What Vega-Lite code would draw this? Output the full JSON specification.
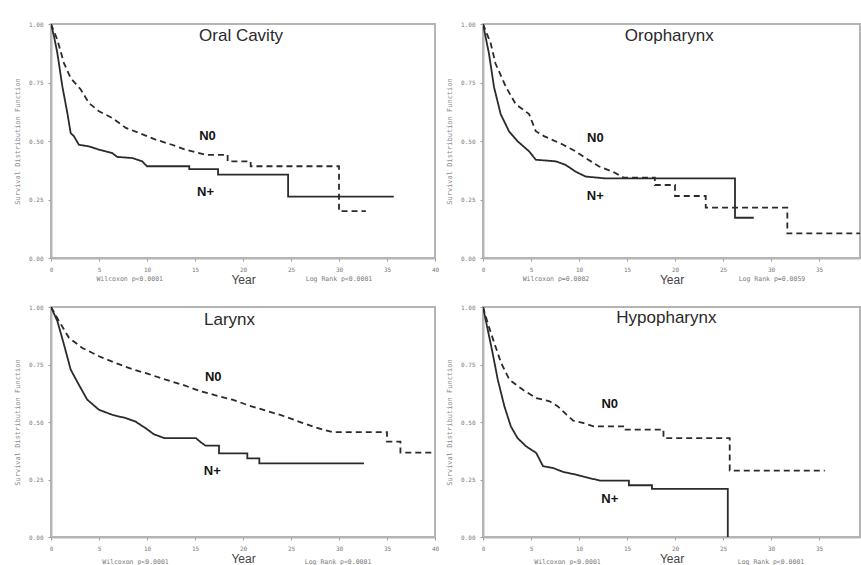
{
  "$schema": "https://vega.github.io/schema/vega-lite/v6.json",
  "padding": {"left": 12, "top": 20, "right": 0, "bottom": 0},
  "bounds": "flush",
  "columns": 2,
  "spacing": {"row": 49, "column": 48},
  "datasets": {
    "curves": [
      {"p": "Oral Cavity", "g": "N+", "i": 0, "t": 0, "s": 1},
      {"p": "Oral Cavity", "g": "N+", "i": 1, "t": 0.3, "s": 0.95},
      {"p": "Oral Cavity", "g": "N+", "i": 2, "t": 0.66, "s": 0.876},
      {"p": "Oral Cavity", "g": "N+", "i": 3, "t": 1.18, "s": 0.734},
      {"p": "Oral Cavity", "g": "N+", "i": 4, "t": 1.7, "s": 0.62},
      {"p": "Oral Cavity", "g": "N+", "i": 5, "t": 2.05, "s": 0.534},
      {"p": "Oral Cavity", "g": "N+", "i": 6, "t": 2.4, "s": 0.52},
      {"p": "Oral Cavity", "g": "N+", "i": 7, "t": 2.9, "s": 0.484},
      {"p": "Oral Cavity", "g": "N+", "i": 8, "t": 3.96, "s": 0.477},
      {"p": "Oral Cavity", "g": "N+", "i": 9, "t": 5.0, "s": 0.463},
      {"p": "Oral Cavity", "g": "N+", "i": 10, "t": 6.35, "s": 0.449},
      {"p": "Oral Cavity", "g": "N+", "i": 11, "t": 6.9, "s": 0.432},
      {"p": "Oral Cavity", "g": "N+", "i": 12, "t": 8.5, "s": 0.427},
      {"p": "Oral Cavity", "g": "N+", "i": 13, "t": 9.5, "s": 0.413},
      {"p": "Oral Cavity", "g": "N+", "i": 14, "t": 10.0, "s": 0.392},
      {"p": "Oral Cavity", "g": "N+", "i": 15, "t": 14.4, "s": 0.392},
      {"p": "Oral Cavity", "g": "N+", "i": 16, "t": 14.4, "s": 0.38},
      {"p": "Oral Cavity", "g": "N+", "i": 17, "t": 17.4, "s": 0.38},
      {"p": "Oral Cavity", "g": "N+", "i": 18, "t": 17.4, "s": 0.356},
      {"p": "Oral Cavity", "g": "N+", "i": 19, "t": 24.7, "s": 0.356},
      {"p": "Oral Cavity", "g": "N+", "i": 20, "t": 24.7, "s": 0.262},
      {"p": "Oral Cavity", "g": "N+", "i": 21, "t": 35.7, "s": 0.262},

      {"p": "Oral Cavity", "g": "N0", "i": 0, "t": 0, "s": 1},
      {"p": "Oral Cavity", "g": "N0", "i": 1, "t": 0.66, "s": 0.933},
      {"p": "Oral Cavity", "g": "N0", "i": 2, "t": 1.35, "s": 0.833},
      {"p": "Oral Cavity", "g": "N0", "i": 3, "t": 2.05, "s": 0.769},
      {"p": "Oral Cavity", "g": "N0", "i": 4, "t": 3.1, "s": 0.72},
      {"p": "Oral Cavity", "g": "N0", "i": 5, "t": 3.96, "s": 0.662},
      {"p": "Oral Cavity", "g": "N0", "i": 6, "t": 5.0, "s": 0.627},
      {"p": "Oral Cavity", "g": "N0", "i": 7, "t": 6.4, "s": 0.598},
      {"p": "Oral Cavity", "g": "N0", "i": 8, "t": 7.8, "s": 0.556},
      {"p": "Oral Cavity", "g": "N0", "i": 9, "t": 9.2, "s": 0.534},
      {"p": "Oral Cavity", "g": "N0", "i": 10, "t": 10.9, "s": 0.506},
      {"p": "Oral Cavity", "g": "N0", "i": 11, "t": 12.6, "s": 0.484},
      {"p": "Oral Cavity", "g": "N0", "i": 12, "t": 14.0, "s": 0.463},
      {"p": "Oral Cavity", "g": "N0", "i": 13, "t": 16.1, "s": 0.441},
      {"p": "Oral Cavity", "g": "N0", "i": 14, "t": 18.4, "s": 0.441},
      {"p": "Oral Cavity", "g": "N0", "i": 15, "t": 18.4, "s": 0.413},
      {"p": "Oral Cavity", "g": "N0", "i": 16, "t": 20.8, "s": 0.413},
      {"p": "Oral Cavity", "g": "N0", "i": 17, "t": 20.8, "s": 0.392},
      {"p": "Oral Cavity", "g": "N0", "i": 18, "t": 30.0, "s": 0.392},
      {"p": "Oral Cavity", "g": "N0", "i": 19, "t": 30.0, "s": 0.2},
      {"p": "Oral Cavity", "g": "N0", "i": 20, "t": 32.8, "s": 0.2},

      {"p": "Oropharynx", "g": "N+", "i": 0, "t": 0, "s": 1},
      {"p": "Oropharynx", "g": "N+", "i": 1, "t": 0.62, "s": 0.874},
      {"p": "Oropharynx", "g": "N+", "i": 2, "t": 1.15, "s": 0.73},
      {"p": "Oropharynx", "g": "N+", "i": 3, "t": 1.84, "s": 0.615},
      {"p": "Oropharynx", "g": "N+", "i": 4, "t": 2.7, "s": 0.542},
      {"p": "Oropharynx", "g": "N+", "i": 5, "t": 3.6, "s": 0.499},
      {"p": "Oropharynx", "g": "N+", "i": 6, "t": 4.8, "s": 0.456},
      {"p": "Oropharynx", "g": "N+", "i": 7, "t": 5.5, "s": 0.42},
      {"p": "Oropharynx", "g": "N+", "i": 8, "t": 7.6, "s": 0.413},
      {"p": "Oropharynx", "g": "N+", "i": 9, "t": 8.6, "s": 0.398},
      {"p": "Oropharynx", "g": "N+", "i": 10, "t": 9.65, "s": 0.369},
      {"p": "Oropharynx", "g": "N+", "i": 11, "t": 10.7, "s": 0.348},
      {"p": "Oropharynx", "g": "N+", "i": 12, "t": 12.8, "s": 0.34},
      {"p": "Oropharynx", "g": "N+", "i": 13, "t": 26.25, "s": 0.34},
      {"p": "Oropharynx", "g": "N+", "i": 14, "t": 26.25, "s": 0.172},
      {"p": "Oropharynx", "g": "N+", "i": 15, "t": 28.2, "s": 0.172},

      {"p": "Oropharynx", "g": "N0", "i": 0, "t": 0, "s": 1},
      {"p": "Oropharynx", "g": "N0", "i": 1, "t": 0.8, "s": 0.918},
      {"p": "Oropharynx", "g": "N0", "i": 2, "t": 1.3, "s": 0.831},
      {"p": "Oropharynx", "g": "N0", "i": 3, "t": 2.4, "s": 0.73},
      {"p": "Oropharynx", "g": "N0", "i": 4, "t": 3.4, "s": 0.658},
      {"p": "Oropharynx", "g": "N0", "i": 5, "t": 4.8, "s": 0.615},
      {"p": "Oropharynx", "g": "N0", "i": 6, "t": 5.5, "s": 0.542},
      {"p": "Oropharynx", "g": "N0", "i": 7, "t": 6.35, "s": 0.521},
      {"p": "Oropharynx", "g": "N0", "i": 8, "t": 8.3, "s": 0.485},
      {"p": "Oropharynx", "g": "N0", "i": 9, "t": 9.65, "s": 0.456},
      {"p": "Oropharynx", "g": "N0", "i": 10, "t": 10.7, "s": 0.427},
      {"p": "Oropharynx", "g": "N0", "i": 11, "t": 12.1, "s": 0.391},
      {"p": "Oropharynx", "g": "N0", "i": 12, "t": 13.5, "s": 0.369},
      {"p": "Oropharynx", "g": "N0", "i": 13, "t": 14.7, "s": 0.343},
      {"p": "Oropharynx", "g": "N0", "i": 14, "t": 17.9, "s": 0.343},
      {"p": "Oropharynx", "g": "N0", "i": 15, "t": 17.9, "s": 0.312},
      {"p": "Oropharynx", "g": "N0", "i": 16, "t": 20.0, "s": 0.312},
      {"p": "Oropharynx", "g": "N0", "i": 17, "t": 20.0, "s": 0.265},
      {"p": "Oropharynx", "g": "N0", "i": 18, "t": 23.2, "s": 0.265},
      {"p": "Oropharynx", "g": "N0", "i": 19, "t": 23.2, "s": 0.215},
      {"p": "Oropharynx", "g": "N0", "i": 20, "t": 31.7, "s": 0.215},
      {"p": "Oropharynx", "g": "N0", "i": 21, "t": 31.7, "s": 0.105},
      {"p": "Oropharynx", "g": "N0", "i": 22, "t": 40, "s": 0.105},

      {"p": "Larynx", "g": "N+", "i": 0, "t": 0, "s": 1},
      {"p": "Larynx", "g": "N+", "i": 1, "t": 0.66, "s": 0.939},
      {"p": "Larynx", "g": "N+", "i": 2, "t": 1.35, "s": 0.837},
      {"p": "Larynx", "g": "N+", "i": 3, "t": 2.05, "s": 0.728},
      {"p": "Larynx", "g": "N+", "i": 4, "t": 2.9, "s": 0.662},
      {"p": "Larynx", "g": "N+", "i": 5, "t": 3.78, "s": 0.597},
      {"p": "Larynx", "g": "N+", "i": 6, "t": 5.0, "s": 0.553},
      {"p": "Larynx", "g": "N+", "i": 7, "t": 6.4, "s": 0.531},
      {"p": "Larynx", "g": "N+", "i": 8, "t": 7.78, "s": 0.517},
      {"p": "Larynx", "g": "N+", "i": 9, "t": 8.8, "s": 0.502},
      {"p": "Larynx", "g": "N+", "i": 10, "t": 9.86, "s": 0.473},
      {"p": "Larynx", "g": "N+", "i": 11, "t": 10.7, "s": 0.447},
      {"p": "Larynx", "g": "N+", "i": 12, "t": 11.8, "s": 0.43},
      {"p": "Larynx", "g": "N+", "i": 13, "t": 15.1, "s": 0.43},
      {"p": "Larynx", "g": "N+", "i": 14, "t": 15.6, "s": 0.412},
      {"p": "Larynx", "g": "N+", "i": 15, "t": 16.1, "s": 0.397},
      {"p": "Larynx", "g": "N+", "i": 16, "t": 17.5, "s": 0.397},
      {"p": "Larynx", "g": "N+", "i": 17, "t": 17.5, "s": 0.364},
      {"p": "Larynx", "g": "N+", "i": 18, "t": 20.45, "s": 0.364},
      {"p": "Larynx", "g": "N+", "i": 19, "t": 20.45, "s": 0.342},
      {"p": "Larynx", "g": "N+", "i": 20, "t": 21.7, "s": 0.342},
      {"p": "Larynx", "g": "N+", "i": 21, "t": 21.7, "s": 0.32},
      {"p": "Larynx", "g": "N+", "i": 22, "t": 32.6, "s": 0.32},

      {"p": "Larynx", "g": "N0", "i": 0, "t": 0, "s": 1},
      {"p": "Larynx", "g": "N0", "i": 1, "t": 0.83, "s": 0.939},
      {"p": "Larynx", "g": "N0", "i": 2, "t": 1.875, "s": 0.866},
      {"p": "Larynx", "g": "N0", "i": 3, "t": 3.26, "s": 0.822},
      {"p": "Larynx", "g": "N0", "i": 4, "t": 5.0, "s": 0.786},
      {"p": "Larynx", "g": "N0", "i": 5, "t": 6.74, "s": 0.756},
      {"p": "Larynx", "g": "N0", "i": 6, "t": 8.47, "s": 0.73},
      {"p": "Larynx", "g": "N0", "i": 7, "t": 10.2, "s": 0.708},
      {"p": "Larynx", "g": "N0", "i": 8, "t": 11.95, "s": 0.684},
      {"p": "Larynx", "g": "N0", "i": 9, "t": 13.7, "s": 0.662},
      {"p": "Larynx", "g": "N0", "i": 10, "t": 15.4, "s": 0.636},
      {"p": "Larynx", "g": "N0", "i": 11, "t": 17.15, "s": 0.616},
      {"p": "Larynx", "g": "N0", "i": 12, "t": 18.9, "s": 0.597},
      {"p": "Larynx", "g": "N0", "i": 13, "t": 20.6, "s": 0.572},
      {"p": "Larynx", "g": "N0", "i": 14, "t": 22.4, "s": 0.549},
      {"p": "Larynx", "g": "N0", "i": 15, "t": 24.1, "s": 0.528},
      {"p": "Larynx", "g": "N0", "i": 16, "t": 25.8, "s": 0.502},
      {"p": "Larynx", "g": "N0", "i": 17, "t": 27.6, "s": 0.476},
      {"p": "Larynx", "g": "N0", "i": 18, "t": 29.3, "s": 0.456},
      {"p": "Larynx", "g": "N0", "i": 19, "t": 35.0, "s": 0.456},
      {"p": "Larynx", "g": "N0", "i": 20, "t": 35.0, "s": 0.415},
      {"p": "Larynx", "g": "N0", "i": 21, "t": 36.4, "s": 0.415},
      {"p": "Larynx", "g": "N0", "i": 22, "t": 36.4, "s": 0.367},
      {"p": "Larynx", "g": "N0", "i": 23, "t": 40, "s": 0.367},

      {"p": "Hypopharynx", "g": "N+", "i": 0, "t": 0, "s": 1},
      {"p": "Hypopharynx", "g": "N+", "i": 1, "t": 0.49, "s": 0.902},
      {"p": "Hypopharynx", "g": "N+", "i": 2, "t": 1.0, "s": 0.8},
      {"p": "Hypopharynx", "g": "N+", "i": 3, "t": 1.54, "s": 0.684},
      {"p": "Hypopharynx", "g": "N+", "i": 4, "t": 2.23, "s": 0.568},
      {"p": "Hypopharynx", "g": "N+", "i": 5, "t": 2.9, "s": 0.481},
      {"p": "Hypopharynx", "g": "N+", "i": 6, "t": 3.6, "s": 0.43},
      {"p": "Hypopharynx", "g": "N+", "i": 7, "t": 4.5, "s": 0.394},
      {"p": "Hypopharynx", "g": "N+", "i": 8, "t": 5.55, "s": 0.365},
      {"p": "Hypopharynx", "g": "N+", "i": 9, "t": 6.25, "s": 0.308},
      {"p": "Hypopharynx", "g": "N+", "i": 10, "t": 7.3, "s": 0.3},
      {"p": "Hypopharynx", "g": "N+", "i": 11, "t": 8.35, "s": 0.283},
      {"p": "Hypopharynx", "g": "N+", "i": 12, "t": 9.7, "s": 0.271},
      {"p": "Hypopharynx", "g": "N+", "i": 13, "t": 11.5, "s": 0.252},
      {"p": "Hypopharynx", "g": "N+", "i": 14, "t": 12.2, "s": 0.245},
      {"p": "Hypopharynx", "g": "N+", "i": 15, "t": 15.2, "s": 0.245},
      {"p": "Hypopharynx", "g": "N+", "i": 16, "t": 15.2, "s": 0.225},
      {"p": "Hypopharynx", "g": "N+", "i": 17, "t": 17.6, "s": 0.225},
      {"p": "Hypopharynx", "g": "N+", "i": 18, "t": 17.6, "s": 0.209},
      {"p": "Hypopharynx", "g": "N+", "i": 19, "t": 25.5, "s": 0.209},
      {"p": "Hypopharynx", "g": "N+", "i": 20, "t": 25.5, "s": 0.0},

      {"p": "Hypopharynx", "g": "N0", "i": 0, "t": 0, "s": 1},
      {"p": "Hypopharynx", "g": "N0", "i": 1, "t": 0.49, "s": 0.93},
      {"p": "Hypopharynx", "g": "N0", "i": 2, "t": 1.18, "s": 0.843},
      {"p": "Hypopharynx", "g": "N0", "i": 3, "t": 1.88, "s": 0.757},
      {"p": "Hypopharynx", "g": "N0", "i": 4, "t": 2.75, "s": 0.684},
      {"p": "Hypopharynx", "g": "N0", "i": 5, "t": 4.16, "s": 0.64},
      {"p": "Hypopharynx", "g": "N0", "i": 6, "t": 5.55, "s": 0.604},
      {"p": "Hypopharynx", "g": "N0", "i": 7, "t": 6.94, "s": 0.59},
      {"p": "Hypopharynx", "g": "N0", "i": 8, "t": 7.8, "s": 0.568},
      {"p": "Hypopharynx", "g": "N0", "i": 9, "t": 8.7, "s": 0.532},
      {"p": "Hypopharynx", "g": "N0", "i": 10, "t": 9.4, "s": 0.506},
      {"p": "Hypopharynx", "g": "N0", "i": 11, "t": 10.4, "s": 0.496},
      {"p": "Hypopharynx", "g": "N0", "i": 12, "t": 11.5, "s": 0.481},
      {"p": "Hypopharynx", "g": "N0", "i": 13, "t": 14.6, "s": 0.481},
      {"p": "Hypopharynx", "g": "N0", "i": 14, "t": 14.6, "s": 0.467},
      {"p": "Hypopharynx", "g": "N0", "i": 15, "t": 18.8, "s": 0.467},
      {"p": "Hypopharynx", "g": "N0", "i": 16, "t": 18.8, "s": 0.43},
      {"p": "Hypopharynx", "g": "N0", "i": 17, "t": 25.7, "s": 0.43},
      {"p": "Hypopharynx", "g": "N0", "i": 18, "t": 25.7, "s": 0.289},
      {"p": "Hypopharynx", "g": "N0", "i": 19, "t": 35.6, "s": 0.289}
    ],
    "labels": [
      {"p": "Oral Cavity", "k": "title", "t": 19.8, "s": 0.949, "txt": "Oral Cavity"},
      {"p": "Oral Cavity", "k": "group", "t": 16.3, "s": 0.521, "txt": "N0"},
      {"p": "Oral Cavity", "k": "group", "t": 16.1, "s": 0.282, "txt": "N+"},
      {"p": "Oral Cavity", "k": "test", "t": 8.2, "s": -0.09, "txt": "Wilcoxon p<0.0001"},
      {"p": "Oral Cavity", "k": "test", "t": 30.0, "s": -0.09, "txt": "Log Rank p<0.0001"},

      {"p": "Oropharynx", "k": "title", "t": 19.4, "s": 0.949, "txt": "Oropharynx"},
      {"p": "Oropharynx", "k": "group", "t": 11.7, "s": 0.513, "txt": "N0"},
      {"p": "Oropharynx", "k": "group", "t": 11.7, "s": 0.265, "txt": "N+"},
      {"p": "Oropharynx", "k": "test", "t": 7.6, "s": -0.09, "txt": "Wilcoxon p=0.0002"},
      {"p": "Oropharynx", "k": "test", "t": 30.1, "s": -0.09, "txt": "Log Rank p=0.0059"},

      {"p": "Larynx", "k": "title", "t": 18.6, "s": 0.943, "txt": "Larynx"},
      {"p": "Larynx", "k": "group", "t": 16.9, "s": 0.696, "txt": "N0"},
      {"p": "Larynx", "k": "group", "t": 16.8, "s": 0.287, "txt": "N+"},
      {"p": "Larynx", "k": "test", "t": 8.8, "s": -0.11, "txt": "Wilcoxon p<0.0001"},
      {"p": "Larynx", "k": "test", "t": 29.9, "s": -0.11, "txt": "Log Rank p<0.0001"},

      {"p": "Hypopharynx", "k": "title", "t": 19.1, "s": 0.952, "txt": "Hypopharynx"},
      {"p": "Hypopharynx", "k": "group", "t": 13.2, "s": 0.578, "txt": "N0"},
      {"p": "Hypopharynx", "k": "group", "t": 13.2, "s": 0.165, "txt": "N+"},
      {"p": "Hypopharynx", "k": "test", "t": 8.8, "s": -0.11, "txt": "Wilcoxon p<0.0001"},
      {"p": "Hypopharynx", "k": "test", "t": 30.0, "s": -0.11, "txt": "Log Rank p<0.0001"}
    ]
  },
  "concat": [
    {
      "width": 384, "height": 234,
      "encoding": {
        "x": {"field": "t", "type": "quantitative", "scale": {"domain": [0, 40], "nice": false},
              "axis": {"values": [0, 5, 10, 15, 20, 25, 30, 35, 40], "format": "d", "title": "Year"}},
        "y": {"field": "s", "type": "quantitative", "scale": {"domain": [0, 1], "nice": false},
              "axis": {"values": [0, 0.25, 0.5, 0.75, 1], "format": ".2f", "title": "Survival Distribution Function"}}
      },
      "layer": [
        {
          "data": {"name": "curves"},
          "transform": [{"filter": "datum.p === 'Oral Cavity'"}],
          "mark": {"type": "line", "clip": true, "strokeWidth": 1.8, "color": "#2b2b2b"},
          "encoding": {
            "strokeDash": {"field": "g", "type": "nominal", "scale": {"domain": ["N0", "N+"], "range": [[6, 4], [1, 0]]}, "legend": null},
            "order": {"field": "i", "type": "quantitative"}
          }
        },
        {"data": {"name": "labels"}, "transform": [{"filter": "datum.p === 'Oral Cavity' && datum.k === 'title'"}],
         "mark": {"type": "text", "font": "Liberation Sans", "fontSize": 17, "color": "#2a2a2a"},
         "encoding": {"text": {"field": "txt"}}},
        {"data": {"name": "labels"}, "transform": [{"filter": "datum.p === 'Oral Cavity' && datum.k === 'group'"}],
         "mark": {"type": "text", "font": "Liberation Sans", "fontSize": 13, "fontWeight": "bold", "color": "#141414"},
         "encoding": {"text": {"field": "txt"}}},
        {"data": {"name": "labels"}, "transform": [{"filter": "datum.p === 'Oral Cavity' && datum.k === 'test'"}],
         "mark": {"type": "text", "font": "DejaVu Sans Mono", "fontSize": 6.5, "color": "#7a7a7a"},
         "encoding": {"text": {"field": "txt"}}}
      ]
    },
    {
      "width": 377, "height": 234,
      "encoding": {
        "x": {"field": "t", "type": "quantitative", "scale": {"domain": [0, 39.27], "nice": false},
              "axis": {"values": [0, 5, 10, 15, 20, 25, 30, 35], "format": "d", "title": "Year"}},
        "y": {"field": "s", "type": "quantitative", "scale": {"domain": [0, 1], "nice": false},
              "axis": {"values": [0, 0.25, 0.5, 0.75, 1], "format": ".2f", "title": "Survival Distribution Function"}}
      },
      "layer": [
        {
          "data": {"name": "curves"},
          "transform": [{"filter": "datum.p === 'Oropharynx'"}],
          "mark": {"type": "line", "clip": true, "strokeWidth": 1.8, "color": "#2b2b2b"},
          "encoding": {
            "strokeDash": {"field": "g", "type": "nominal", "scale": {"domain": ["N0", "N+"], "range": [[6, 4], [1, 0]]}, "legend": null},
            "order": {"field": "i", "type": "quantitative"}
          }
        },
        {"data": {"name": "labels"}, "transform": [{"filter": "datum.p === 'Oropharynx' && datum.k === 'title'"}],
         "mark": {"type": "text", "font": "Liberation Sans", "fontSize": 17, "color": "#2a2a2a"},
         "encoding": {"text": {"field": "txt"}}},
        {"data": {"name": "labels"}, "transform": [{"filter": "datum.p === 'Oropharynx' && datum.k === 'group'"}],
         "mark": {"type": "text", "font": "Liberation Sans", "fontSize": 13, "fontWeight": "bold", "color": "#141414"},
         "encoding": {"text": {"field": "txt"}}},
        {"data": {"name": "labels"}, "transform": [{"filter": "datum.p === 'Oropharynx' && datum.k === 'test'"}],
         "mark": {"type": "text", "font": "DejaVu Sans Mono", "fontSize": 6.5, "color": "#7a7a7a"},
         "encoding": {"text": {"field": "txt"}}}
      ]
    },
    {
      "width": 384, "height": 230,
      "encoding": {
        "x": {"field": "t", "type": "quantitative", "scale": {"domain": [0, 40], "nice": false},
              "axis": {"values": [0, 5, 10, 15, 20, 25, 30, 35, 40], "format": "d", "title": "Year"}},
        "y": {"field": "s", "type": "quantitative", "scale": {"domain": [0, 1], "nice": false},
              "axis": {"values": [0, 0.25, 0.5, 0.75, 1], "format": ".2f", "title": "Survival Distribution Function"}}
      },
      "layer": [
        {
          "data": {"name": "curves"},
          "transform": [{"filter": "datum.p === 'Larynx'"}],
          "mark": {"type": "line", "clip": true, "strokeWidth": 1.8, "color": "#2b2b2b"},
          "encoding": {
            "strokeDash": {"field": "g", "type": "nominal", "scale": {"domain": ["N0", "N+"], "range": [[6, 4], [1, 0]]}, "legend": null},
            "order": {"field": "i", "type": "quantitative"}
          }
        },
        {"data": {"name": "labels"}, "transform": [{"filter": "datum.p === 'Larynx' && datum.k === 'title'"}],
         "mark": {"type": "text", "font": "Liberation Sans", "fontSize": 17, "color": "#2a2a2a"},
         "encoding": {"text": {"field": "txt"}}},
        {"data": {"name": "labels"}, "transform": [{"filter": "datum.p === 'Larynx' && datum.k === 'group'"}],
         "mark": {"type": "text", "font": "Liberation Sans", "fontSize": 13, "fontWeight": "bold", "color": "#141414"},
         "encoding": {"text": {"field": "txt"}}},
        {"data": {"name": "labels"}, "transform": [{"filter": "datum.p === 'Larynx' && datum.k === 'test'"}],
         "mark": {"type": "text", "font": "DejaVu Sans Mono", "fontSize": 6.5, "color": "#7a7a7a"},
         "encoding": {"text": {"field": "txt"}}}
      ]
    },
    {
      "width": 377, "height": 230,
      "encoding": {
        "x": {"field": "t", "type": "quantitative", "scale": {"domain": [0, 39.27], "nice": false},
              "axis": {"values": [0, 5, 10, 15, 20, 25, 30, 35], "format": "d", "title": "Year"}},
        "y": {"field": "s", "type": "quantitative", "scale": {"domain": [0, 1], "nice": false},
              "axis": {"values": [0, 0.25, 0.5, 0.75, 1], "format": ".2f", "title": "Survival Distribution Function"}}
      },
      "layer": [
        {
          "data": {"name": "curves"},
          "transform": [{"filter": "datum.p === 'Hypopharynx'"}],
          "mark": {"type": "line", "clip": true, "strokeWidth": 1.8, "color": "#2b2b2b"},
          "encoding": {
            "strokeDash": {"field": "g", "type": "nominal", "scale": {"domain": ["N0", "N+"], "range": [[6, 4], [1, 0]]}, "legend": null},
            "order": {"field": "i", "type": "quantitative"}
          }
        },
        {"data": {"name": "labels"}, "transform": [{"filter": "datum.p === 'Hypopharynx' && datum.k === 'title'"}],
         "mark": {"type": "text", "font": "Liberation Sans", "fontSize": 17, "color": "#2a2a2a"},
         "encoding": {"text": {"field": "txt"}}},
        {"data": {"name": "labels"}, "transform": [{"filter": "datum.p === 'Hypopharynx' && datum.k === 'group'"}],
         "mark": {"type": "text", "font": "Liberation Sans", "fontSize": 13, "fontWeight": "bold", "color": "#141414"},
         "encoding": {"text": {"field": "txt"}}},
        {"data": {"name": "labels"}, "transform": [{"filter": "datum.p === 'Hypopharynx' && datum.k === 'test'"}],
         "mark": {"type": "text", "font": "DejaVu Sans Mono", "fontSize": 6.5, "color": "#7a7a7a"},
         "encoding": {"text": {"field": "txt"}}}
      ]
    }
  ],
  "config": {
    "background": "#ffffff",
    "view": {"stroke": "#b4b4b4", "strokeWidth": 2},
    "axis": {
      "grid": false,
      "domainColor": "#b4b4b4",
      "domainWidth": 2,
      "tickColor": "#9a9a9a",
      "tickSize": 3,
      "labelFont": "DejaVu Sans Mono",
      "labelFontSize": 6,
      "labelColor": "#7a7a7a",
      "labelPadding": 5,
      "titleFont": "DejaVu Sans Mono",
      "titleFontSize": 7,
      "titleFontWeight": "normal",
      "titleColor": "#8a8a8a"
    },
    "axisX": {
      "labelFlush": false,
      "titleFont": "Liberation Sans",
      "titleFontSize": 12,
      "titleColor": "#444444",
      "titlePadding": 2
    },
    "axisY": {"titlePadding": 8}
  }
}
